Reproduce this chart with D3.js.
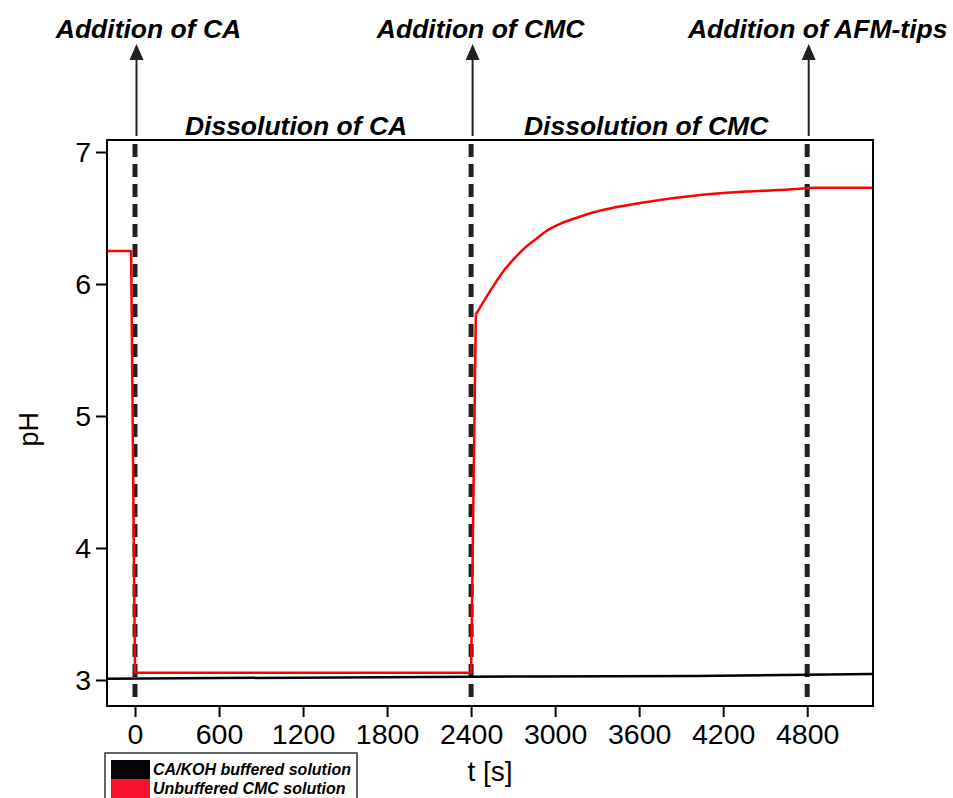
<!DOCTYPE html>
<html>
<head>
<meta charset="utf-8">
<script src="https://cdn.jsdelivr.net/npm/d3@7"></script>
<style>
  html, body { margin: 0; padding: 0; background: #fff; }
  svg { display: block; font-family: "Liberation Sans", Arial, sans-serif; }
</style>
</head>
<body>
<svg id="chart"></svg>
<script>
// Data
const unbufferedT  = [-200, -28, 0, 2400, 2434, 2562, 2640, 2706, 2780, 2850, 2950, 3043, 3150, 3284, 3450, 3644, 4005, 4366, 4726, 4846, 4965, 5270];
const unbufferedPH = [6.25, 6.25, 3.055, 3.055, 5.77, 5.99, 6.11, 6.19, 6.27, 6.33, 6.41, 6.46, 6.50, 6.545, 6.585, 6.62, 6.67, 6.70, 6.72, 6.73, 6.73, 6.73];
const bufferedT  = [-200, 2400, 4000, 5270];
const bufferedPH = [3.01, 3.025, 3.03, 3.045];

const eventTimes  = [0, 2400, 4800];
const eventLabels = ['Addition of CA', 'Addition of CMC', 'Addition of AFM-tips'];
const phaseLabels = ['Dissolution of CA', 'Dissolution of CMC'];
const phaseCenters = [1150, 3650];

const xTicks = [0, 600, 1200, 1800, 2400, 3000, 3600, 4200, 4800];
const yTicks = [3, 4, 5, 6, 7];

const legendNames  = ['CA/KOH buffered solution', 'Unbuffered CMC solution'];
const legendColors = ['#05040a', '#f7132a'];

const W = 953, H = 798;
const margin = { top: 140, right: 80, bottom: 92, left: 107 };

const svg = d3.select('#chart')
  .attr('width', W)
  .attr('height', H);

const x = d3.scaleLinear()
  .domain([-200, 5270])
  .range([margin.left, W - margin.right]);

const y = d3.scaleLinear()
  .domain([2.803, 7.091])
  .range([H - margin.bottom, margin.top]);

// Dashed event lines
svg.append('g')
  .selectAll('line')
  .data(eventTimes)
  .join('line')
  .attr('x1', d => x(d))
  .attr('x2', d => x(d))
  .attr('y1', y(7.06))
  .attr('y2', y(2.86))
  .attr('stroke', '#231f20')
  .attr('stroke-width', 5)
  .attr('stroke-dasharray', '13,7');

// Lines
const stepLine = d3.line()
  .x(d => x(d[0]))
  .y(d => y(d[1]));

const smoothLine = d3.line()
  .x(d => x(d[0]))
  .y(d => y(d[1]))
  .curve(d3.curveMonotoneX);

svg.append('path')
  .datum(bufferedT.map((t, i) => [t, bufferedPH[i]]))
  .attr('fill', 'none')
  .attr('stroke', '#000')
  .attr('stroke-width', 2.5)
  .attr('d', smoothLine);

// unbuffered: sharp steps up to the CMC jump, smooth rise afterwards
const red = unbufferedT.map((t, i) => [t, unbufferedPH[i]]);
const jump = unbufferedT.indexOf(2434);
const redPaths = [red.slice(0, jump + 1), red.slice(jump)];

svg.append('g')
  .selectAll('path')
  .data(redPaths)
  .join('path')
  .attr('fill', 'none')
  .attr('stroke', '#ff0000')
  .attr('stroke-width', 2.5)
  .attr('stroke-linejoin', 'round')
  .attr('d', (d, i) => i === 0 ? stepLine(d) : smoothLine(d));

// Frame
svg.append('rect')
  .attr('x', margin.left)
  .attr('y', margin.top)
  .attr('width', W - margin.left - margin.right)
  .attr('height', H - margin.top - margin.bottom)
  .attr('fill', 'none')
  .attr('stroke', '#000')
  .attr('stroke-width', 2);

// X axis
const xAxis = svg.append('g')
  .attr('transform', `translate(0,${H - margin.bottom})`)
  .call(d3.axisBottom(x).tickValues(xTicks).tickSize(11).tickPadding(7).tickFormat(d3.format('d')));
xAxis.select('.domain').remove();
xAxis.selectAll('line').attr('stroke', '#000').attr('stroke-width', 2);
xAxis.selectAll('text')
  .attr('fill', '#000')
  .style('font-size', '28.5px')
  .style('font-family', '"Liberation Sans", Arial, sans-serif');

// Y axis
const yAxis = svg.append('g')
  .attr('transform', `translate(${margin.left},0)`)
  .call(d3.axisLeft(y).tickValues(yTicks).tickSize(11).tickPadding(5).tickFormat(d3.format('d')));
yAxis.select('.domain').remove();
yAxis.selectAll('line').attr('stroke', '#000').attr('stroke-width', 2);
yAxis.selectAll('text')
  .attr('fill', '#000')
  .style('font-size', '28.5px')
  .style('font-family', '"Liberation Sans", Arial, sans-serif');

// Axis labels
svg.append('text')
  .attr('x', 490)
  .attr('y', 781)
  .attr('text-anchor', 'middle')
  .style('font-size', '28px')
  .text('t [s]');

svg.append('text')
  .attr('transform', `translate(38,${y(4.9)}) rotate(-90)`)
  .attr('text-anchor', 'middle')
  .style('font-size', '27px')
  .text('pH');

// Event arrows and labels
const arrows = svg.append('g');
eventTimes.forEach((t, i) => {
  const ax = x(t) + 1.5;
  arrows.append('line')
    .attr('x1', ax).attr('x2', ax)
    .attr('y1', margin.top - 4).attr('y2', 52)
    .attr('stroke', '#231f20')
    .attr('stroke-width', 2);
  arrows.append('path')
    .attr('d', `M${ax},44 L${ax - 7},60 L${ax + 7},60 Z`)
    .attr('fill', '#231f20');
  arrows.append('text')
    .attr('x', ax + [12, 8, 9][i])
    .attr('y', 38)
    .attr('text-anchor', 'middle')
    .style('font-size', '26.5px')
    .style('font-weight', 'bold')
    .style('font-style', 'italic')
    .text(eventLabels[i]);
});

svg.append('g')
  .selectAll('text')
  .data(phaseLabels)
  .join('text')
  .attr('x', (d, i) => x(phaseCenters[i]))
  .attr('y', 135)
  .attr('text-anchor', 'middle')
  .style('font-size', '26.5px')
  .style('font-weight', 'bold')
  .style('font-style', 'italic')
  .text(d => d);

// Legend
const legend = svg.append('g').attr('transform', 'translate(105,753)');
legend.append('rect')
  .attr('x', 0).attr('y', 0)
  .attr('width', 252).attr('height', 60)
  .attr('fill', '#fff')
  .attr('stroke', '#333')
  .attr('stroke-width', 1.5);
legendNames.forEach((name, i) => {
  legend.append('rect')
    .attr('x', 6).attr('y', 7 + i * 19)
    .attr('width', 39).attr('height', 19)
    .attr('fill', legendColors[i]);
  legend.append('text')
    .attr('x', 48).attr('y', 22 + i * 19)
    .style('font-size', '16px')
    .style('font-weight', 'bold')
    .style('font-style', 'italic')
    .text(name);
});
</script>
</body>
</html>
